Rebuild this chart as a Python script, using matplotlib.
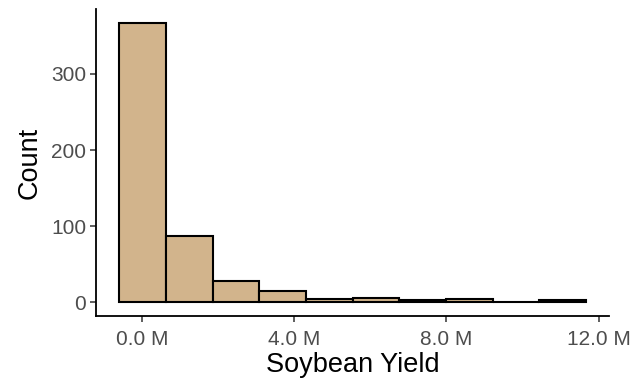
import numpy as np
import matplotlib.pyplot as plt
from matplotlib.ticker import FuncFormatter

plt.rcParams['font.family'] = ['Liberation Sans', 'DejaVu Sans']

# histogram of soybean yield (bushels), counts per bin
bin_start = -0.603e6
bin_width = 1.227e6
counts = [367, 87, 28, 15, 5, 6, 3, 5, 1, 3]
x_ticks = [0, 4e6, 8e6, 12e6]
y_ticks = [0, 100, 200, 300]

edges = bin_start + bin_width * np.arange(len(counts) + 1)

fig = plt.figure(figsize=(6.32, 3.85), dpi=100)
ax = fig.add_axes([0.152, 0.178, 0.812, 0.799])

ax.bar(edges[:-1], counts, width=bin_width, align='edge',
       color='#D2B48C', edgecolor='black', linewidth=1.5)

span = edges[-1] - edges[0]
ax.set_xlim(edges[0] - 0.05 * span, edges[-1] + 0.05 * span)
ax.set_ylim(-0.05 * max(counts), max(counts) * 1.05)

ax.set_xticks(x_ticks)
ax.xaxis.set_major_formatter(FuncFormatter(lambda v, p: f'{v / 1e6:.1f} M'))
ax.set_yticks(y_ticks)

for s in ['top', 'right']:
    ax.spines[s].set_visible(False)
for s in ['left', 'bottom']:
    ax.spines[s].set_linewidth(1.3)
    ax.spines[s].set_color('black')

ax.tick_params(axis='both', length=4, width=1.1, color='#333333',
               labelsize=15, labelcolor='#4D4D4D')
ax.tick_params(axis='x', pad=6)
ax.tick_params(axis='y', pad=3)

ax.set_xlabel('Soybean Yield', fontsize=19.5, labelpad=2)
ax.set_ylabel('Count', fontsize=19.5, labelpad=6)

fig.savefig('out.png', dpi=100)
